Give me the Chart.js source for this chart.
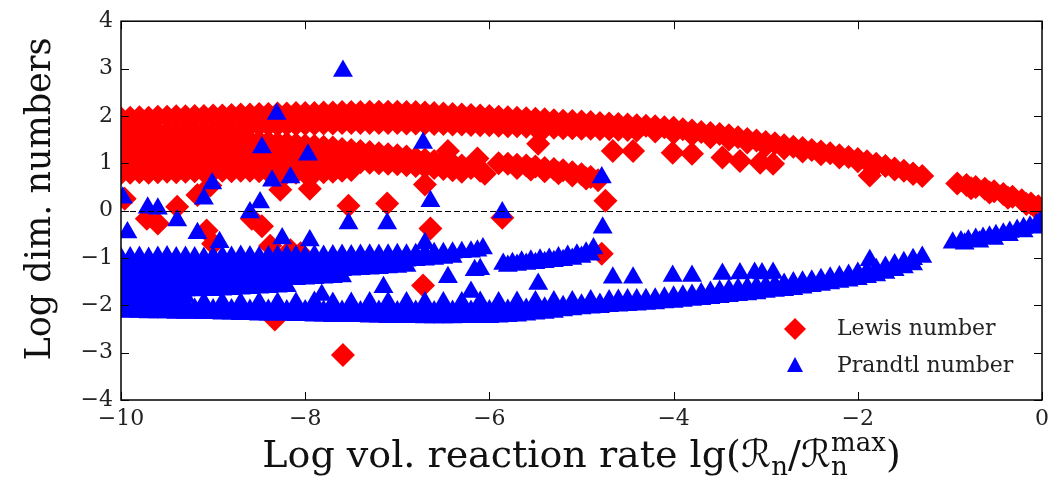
<!DOCTYPE html>
<html>
<head>
<meta charset="utf-8">
<script src="https://cdn.jsdelivr.net/npm/chart.js@4.4.1/dist/chart.umd.min.js"></script>
<style>
  html, body { margin: 0; padding: 0; background: #fff; }
  canvas { display: block; }
</style>
</head>
<body>
<canvas id="myChart" width="1059" height="486"></canvas>
<script>
// axis ranges
const xRange = [-10, 0];
const yRange = [-4, 4];

// Lewis number (red diamonds), [x, y]
const lewisArcTop = [[-10,1.95],[-9.9,1.96],[-9.8,1.97],[-9.7,1.96],[-9.6,1.98],[-9.5,1.98],[-9.4,1.99],[-9.3,1.99],[-9.2,2.0],[-9.1,2.0],[-9.0,2.01],[-8.9,2.01],[-8.8,2.02],[-8.7,2.03],[-8.6,2.03],[-8.5,2.04],[-8.4,2.04],[-8.3,2.05],[-8.2,2.05],[-8.1,2.06],[-8.0,2.06],[-7.9,2.06],[-7.8,2.07],[-7.7,2.07],[-7.6,2.08],[-7.5,2.08],[-7.4,2.08],[-7.3,2.09],[-7.2,2.09],[-7.1,2.09],[-7.0,2.09],[-6.9,2.08],[-6.8,2.08],[-6.7,2.07],[-6.6,2.06],[-6.5,2.05],[-6.4,2.04],[-6.3,2.03],[-6.2,2.02],[-6.1,2.01],[-6.0,2.0],[-5.9,1.98],[-5.8,1.97],[-5.7,1.96],[-5.6,1.95],[-5.5,1.94],[-5.4,1.93],[-5.3,1.91],[-5.2,1.9],[-5.1,1.89],[-5.0,1.88],[-4.9,1.87],[-4.8,1.85],[-4.7,1.84],[-4.6,1.83],[-4.5,1.82],[-4.4,1.8],[-4.3,1.79],[-4.2,1.78],[-4.1,1.76],[-4.0,1.75],[-3.9,1.72],[-3.8,1.69],[-3.7,1.66],[-3.6,1.64],[-3.5,1.62],[-3.4,1.59],[-3.3,1.55],[-3.2,1.51],[-3.1,1.48],[-3.0,1.45],[-2.9,1.42],[-2.8,1.38],[-2.7,1.35],[-2.6,1.32],[-2.5,1.28],[-2.4,1.25],[-2.3,1.21],[-2.2,1.17],[-2.1,1.13],[-2.0,1.09],[-1.9,1.04],[-1.8,0.99],[-1.7,0.94],[-1.6,0.89],[-1.5,0.84],[-1.4,0.78],[-1.3,0.73]];
const lewisArcLow = [[-8.6,1.8],[-8.5,1.8],[-8.4,1.81],[-8.3,1.81],[-8.2,1.82],[-8.1,1.82],[-8.0,1.83],[-7.9,1.83],[-7.8,1.84],[-7.7,1.84],[-7.6,1.85],[-7.5,1.85],[-7.4,1.85],[-7.3,1.85],[-7.2,1.85],[-7.1,1.85],[-7.0,1.85],[-6.9,1.84],[-6.8,1.84],[-6.7,1.84],[-6.6,1.83],[-6.5,1.83],[-6.4,1.82],[-6.3,1.82],[-6.2,1.81],[-6.1,1.8],[-6.0,1.8],[-5.9,1.79],[-5.8,1.78],[-5.7,1.78],[-5.6,1.77],[-5.5,1.76],[-5.4,1.75],[-5.3,1.75],[-5.2,1.74],[-5.1,1.74],[-5.0,1.73],[-4.9,1.73],[-4.8,1.72],[-4.7,1.72],[-4.6,1.71],[-4.5,1.7],[-4.4,1.69],
  [-4.2,1.67],[-4,1.64],[-3.8,1.6],[-3.6,1.55],[-3.4,1.5],[-3.2,1.44],[-3,1.37],[-2.8,1.31],[-2.6,1.25],[-2.4,1.19],[-2.2,1.12],[-2,1.04],[-1.8,0.96],[-1.6,0.87],[-1.4,0.78]];
const lewisLeftBlock = [
  [-10,1.64],[-9.9,1.65],[-9.8,1.65],[-9.7,1.64],[-9.6,1.66],[-9.5,1.66],[-9.4,1.67],[-9.3,1.67],[-9.2,1.68],[-9.1,1.68],[-9.0,1.69],[-8.9,1.7],[-8.8,1.7],[-8.7,1.71],
  [-10,1.35],[-9.9,1.36],[-9.8,1.35],[-9.7,1.36],[-9.6,1.37],[-9.5,1.36],[-9.4,1.37],[-9.3,1.38],[-9.2,1.38],[-9.1,1.39],[-9.0,1.4],[-8.9,1.41],[-8.8,1.42],[-8.7,1.43],
  [-10,1.06],[-9.9,1.07],[-9.8,1.06],[-9.7,1.07],[-9.6,1.08],[-9.5,1.07],[-9.4,1.08],[-9.3,1.09],[-9.2,1.09],[-9.1,1.1],[-9.0,1.1],[-8.9,1.11],[-8.8,1.12],[-8.7,1.13],
  [-10,0.79],[-9.9,0.8],[-9.8,0.81],[-9.7,0.8],[-9.6,0.81],[-9.5,0.82],[-9.4,0.81],[-9.3,0.82],[-9.2,0.83],[-9.1,0.82],[-9.0,0.83],[-8.9,0.84],[-8.8,0.83],[-8.7,0.84]];
const lewisBranchA = [
  [-8.6,1.47],[-8.5,1.46],[-8.4,1.45],[-8.3,1.43],[-8.2,1.42],[-8.1,1.4],[-8.0,1.38],[-7.9,1.37],[-7.8,1.35],[-7.7,1.33],[-7.6,1.3],[-7.5,1.28],[-7.4,1.26],[-7.3,1.24],[-7.2,1.21],[-7.1,1.19],[-7.0,1.17],[-6.9,1.14],[-6.8,1.11],[-6.7,1.08],[-6.6,1.05],[-6.5,1.03],[-6.4,0.99],[-6.3,0.95],[-6.2,0.9],[-6.1,0.84],[-6.05,0.78],
  [-8.6,1.14],[-8.5,1.13],[-8.4,1.12],[-8.3,1.11],[-8.2,1.1],[-8.1,1.09],[-8.0,1.08],[-7.9,1.07],[-7.8,1.06],[-7.7,1.05],[-7.6,1.04],[-7.5,1.03],[-7.4,1.02],[-7.3,1.01],[-7.2,1.0],[-7.1,0.99],[-7.0,0.98],[-6.9,0.96],[-6.8,0.94],[-6.7,0.92],[-6.6,0.9],[-6.5,0.88],[-6.4,0.85],[-6.3,0.82],
  [-8.6,0.84],[-8.5,0.83],[-8.4,0.82],[-8.3,0.81],[-8.2,0.8],[-8.1,0.8],[-8.0,0.79],[-7.9,0.8],[-7.8,0.81],[-7.7,0.82],[-7.6,0.84],[-7.5,0.86]];
const lewisBranchB = [[-5.9,1.0],[-5.8,0.99],[-5.7,0.97],[-5.6,0.95],[-5.5,0.93],[-5.4,0.9],[-5.3,0.88],[-5.2,0.85],[-5.1,0.81],[-5.0,0.77],[-4.9,0.71],[-4.82,0.64],
  [-5.7,0.9],[-5.55,0.87],[-5.4,0.83],[-5.25,0.79],[-5.1,0.74],[-4.95,0.68]];
const lewisTail = [[-0.92,0.57],[-0.82,0.54],[-0.72,0.5],[-0.62,0.46],[-0.52,0.41],[-0.42,0.35],[-0.32,0.29],[-0.22,0.22],[-0.12,0.15],[-0.04,0.09],
  [-0.77,0.47],[-0.57,0.38],[-0.37,0.27],[-0.17,0.14],[-0.05,0.03]];
const lewisScatter = [[-9.96,0.25],[-9.72,-0.17],[-9.6,-0.27],[-9.39,0.08],[-9.17,0.33],[-9.03,0.53],[-9.07,-0.42],[-9.0,-0.7],[-8.58,-0.17],[-8.47,-0.33],[-8.38,-0.74],[-8.27,0.44],[-8.16,-0.84],[-8.05,-0.9],[-7.95,0.46],[-8.33,-2.3],[-7.53,0.1],[-7.11,0.15],[-6.7,0.55],[-6.64,-0.38],[-6.45,1.26],[-6.13,1.1],[-5.86,-0.15],[-5.47,1.41],[-4.74,0.21],[-4.78,-0.91],[-4.66,1.26],[-4.44,1.26],[-6.72,-1.58],[-7.59,-3.05],[-4.01,1.22],[-3.8,1.2],[-3.47,1.12],[-3.28,1.05],[-3.06,1.01],[-2.92,0.99],[-1.87,0.74]];

// Prandtl number (blue triangles), [x, y]
const prandtlUpper = [
  [-10,-1.0],[-9.9,-0.99],[-9.8,-0.98],[-9.7,-1.0],[-9.6,-0.98],[-9.5,-0.97],[-9.4,-0.99],[-9.3,-0.98],[-9.2,-0.99],[-9.1,-1.0],[-9.0,-0.98],[-8.9,-0.97],[-8.8,-0.98],[-8.7,-0.96],[-8.6,-0.97],[-8.5,-0.98],[-8.4,-0.97],[-8.3,-0.96],[-8.2,-0.95],[-8.1,-0.96],[-8.0,-0.97],[-7.9,-0.95],[-7.8,-0.96],[-7.7,-0.95],[-7.6,-0.94],[-7.5,-0.95],[-7.4,-0.94],[-7.3,-0.93],[-7.2,-0.94],[-7.1,-0.93],[-7.0,-0.92],[-6.9,-0.93],[-6.8,-0.92],[-6.7,-0.91],[-6.6,-0.9],[-6.5,-0.9],[-6.4,-0.89],[-6.3,-0.88],[-6.2,-0.87],[-6.13,-0.85],
  [-10,-1.17],[-9.9,-1.16],[-9.8,-1.17],[-9.7,-1.16],[-9.6,-1.16],[-9.5,-1.17],[-9.4,-1.16],[-9.3,-1.15],[-9.2,-1.16],[-9.1,-1.15],[-9.0,-1.15],[-8.9,-1.16],[-8.8,-1.15],[-8.7,-1.14],[-8.6,-1.15],[-8.5,-1.14],[-8.4,-1.14],[-8.3,-1.13],[-8.2,-1.14],[-8.1,-1.13],[-8.0,-1.13],[-7.9,-1.12],[-7.8,-1.12],[-7.7,-1.11],[-7.6,-1.11],[-7.5,-1.1],[-7.4,-1.1],[-7.3,-1.09],[-7.2,-1.08],[-7.1,-1.08],[-7.0,-1.07],[-6.9,-1.06],[-6.8,-1.05],[-6.7,-1.04],[-6.6,-1.02],[-6.5,-1.0],[-6.4,-0.98],
  [-10,-1.35],[-9.9,-1.34],[-9.8,-1.35],[-9.7,-1.34],[-9.6,-1.34],[-9.5,-1.35],[-9.4,-1.34],[-9.3,-1.33],[-9.2,-1.34],[-9.1,-1.33],[-9.0,-1.33],[-8.9,-1.32],[-8.8,-1.32],[-8.7,-1.31],[-8.6,-1.31],[-8.5,-1.31],[-8.4,-1.3],[-8.3,-1.3],[-8.2,-1.29],[-8.1,-1.29],[-8.0,-1.28],[-7.9,-1.28],[-7.8,-1.27],[-7.7,-1.26],[-7.6,-1.26],[-7.5,-1.25],[-7.4,-1.24],[-7.3,-1.23],[-7.2,-1.22],[-7.1,-1.2],[-7.0,-1.19],[-6.9,-1.17],
  [-10,-1.53],[-9.9,-1.52],[-9.8,-1.53],[-9.7,-1.52],[-9.6,-1.52],[-9.5,-1.53],[-9.4,-1.52],[-9.3,-1.51],[-9.2,-1.51],[-9.1,-1.5],[-9.0,-1.5],[-8.9,-1.5],[-8.8,-1.49],[-8.7,-1.49],[-8.6,-1.48],[-8.5,-1.48],[-8.4,-1.47],[-8.3,-1.46],[-8.2,-1.45],[-8.1,-1.45],[-8.0,-1.44],[-7.9,-1.43],[-7.8,-1.42],[-7.7,-1.41],[-7.6,-1.39],
  [-10,-1.71],[-9.9,-1.7],[-9.8,-1.71],[-9.7,-1.7],[-9.6,-1.7],[-9.5,-1.71],[-9.4,-1.7],[-9.3,-1.69],[-9.2,-1.69],[-9.1,-1.68],[-9.0,-1.68],[-8.9,-1.67],[-8.8,-1.66],[-8.7,-1.65],[-8.6,-1.64],[-8.5,-1.63],[-8.4,-1.62],[-8.3,-1.61],[-8.2,-1.6],
  [-10,-1.84],[-9.9,-1.85],[-9.8,-1.84],[-9.7,-1.84],[-9.6,-1.83],[-9.5,-1.84],[-9.4,-1.83],[-9.3,-1.82]];
const prandtlLowTop = [[-10,-1.94],[-9.9,-1.95],[-9.8,-1.94],[-9.7,-1.93],[-9.6,-1.95],[-9.5,-1.95],[-9.4,-1.94],
  [-9.3,-1.96],[-9.1,-1.94],[-8.9,-1.94],[-8.7,-1.95],[-8.5,-1.94],[-8.3,-1.95],[-8.1,-1.95],[-7.9,-1.93],[-7.7,-1.95],[-7.5,-1.95],[-7.3,-1.94],[-7.1,-1.94],[-6.9,-1.94],[-6.7,-1.94],[-6.5,-1.94],[-6.3,-1.94],[-6.1,-1.93],[-5.9,-1.94],[-5.7,-1.93],[-5.5,-1.92],[-5.3,-1.92],[-5.1,-1.92],[-4.9,-1.9],[-4.7,-1.9],
  [-4.6,-1.89],[-4.5,-1.88],[-4.4,-1.88],[-4.3,-1.87],[-4.2,-1.86],[-4.1,-1.84],[-4.0,-1.82],[-3.9,-1.8],[-3.8,-1.78],[-3.7,-1.75],[-3.6,-1.72],[-3.5,-1.7],[-3.4,-1.67],[-3.3,-1.65],[-3.2,-1.63],[-3.1,-1.61],[-3.0,-1.59],[-2.9,-1.57],[-2.8,-1.55],[-2.7,-1.52],[-2.6,-1.5],[-2.5,-1.48],[-2.4,-1.45],[-2.3,-1.42],[-2.2,-1.39],[-2.1,-1.36],[-2.0,-1.32],[-1.9,-1.28],[-1.8,-1.24],[-1.7,-1.19],[-1.6,-1.14],[-1.5,-1.09],[-1.4,-1.03],[-1.3,-0.98]];
const prandtlLowMid = [[-10,-2.06],[-9.9,-2.07],[-9.8,-2.07],[-9.7,-2.08],[-9.6,-2.07],[-9.5,-2.08],[-9.4,-2.08],[-9.3,-2.09],[-9.2,-2.08],[-9.1,-2.09],[-9.0,-2.09],[-8.9,-2.1],[-8.8,-2.09],[-8.7,-2.1],[-8.6,-2.1],[-8.5,-2.11],[-8.4,-2.1],[-8.3,-2.11],[-8.2,-2.11],[-8.1,-2.12],[-8.0,-2.11],[-7.9,-2.12],[-7.8,-2.12],[-7.7,-2.12],[-7.6,-2.12],[-7.5,-2.12],[-7.4,-2.13],[-7.3,-2.13],[-7.2,-2.12],[-7.1,-2.13],[-7.0,-2.13],[-6.9,-2.13],[-6.8,-2.12],[-6.7,-2.13],[-6.6,-2.13],[-6.5,-2.13],[-6.4,-2.12],[-6.3,-2.12],[-6.2,-2.12],[-6.1,-2.12],[-6.0,-2.11],[-5.9,-2.1],[-5.8,-2.1],[-5.7,-2.09],[-5.6,-2.08],[-5.5,-2.07],[-5.4,-2.05],[-5.3,-2.04],[-5.2,-2.02],[-5.1,-2.0],[-5.0,-1.99],[-4.9,-1.98],[-4.8,-1.97],[-4.7,-1.96],[-4.6,-1.95]];
const prandtlLowBottom = [[-10,-2.13],[-9.9,-2.14],[-9.8,-2.14],[-9.7,-2.15],[-9.6,-2.15],[-9.5,-2.15],[-9.4,-2.16],[-9.3,-2.16],[-9.2,-2.16],[-9.1,-2.17],[-9.0,-2.17],[-8.9,-2.18],[-8.8,-2.18],[-8.7,-2.19],[-8.6,-2.19],[-8.5,-2.2],[-8.4,-2.2],[-8.3,-2.2],[-8.2,-2.2],[-8.1,-2.21],[-8.0,-2.21],[-7.9,-2.22],[-7.8,-2.22],[-7.7,-2.23],[-7.6,-2.23],[-7.5,-2.23],[-7.4,-2.23],[-7.3,-2.24],[-7.2,-2.24],[-7.1,-2.25],[-7.0,-2.25],[-6.9,-2.25],[-6.8,-2.25],[-6.7,-2.26],[-6.6,-2.26],[-6.5,-2.26],[-6.4,-2.26],[-6.3,-2.25],[-6.2,-2.25],[-6.1,-2.25],[-6.0,-2.25],[-5.9,-2.24],[-5.8,-2.23],[-5.7,-2.22],[-5.6,-2.2],[-5.5,-2.18],[-5.4,-2.16],[-5.3,-2.14],[-5.2,-2.11],[-5.1,-2.09],[-5.0,-2.07],[-4.9,-2.05],[-4.8,-2.04],[-4.7,-2.02],[-4.6,-2.01],[-4.5,-2.0],[-4.4,-1.99],[-4.3,-1.97],[-4.2,-1.96],[-4.1,-1.94],[-4.0,-1.93],[-3.9,-1.91],[-3.8,-1.89],[-3.7,-1.87],[-3.6,-1.85],[-3.5,-1.83],[-3.4,-1.81],[-3.3,-1.79],[-3.2,-1.77],[-3.1,-1.75],[-3.0,-1.72],[-2.9,-1.7],[-2.8,-1.68],[-2.7,-1.66],[-2.6,-1.63],[-2.5,-1.6],[-2.4,-1.57],[-2.3,-1.54],[-2.2,-1.51],[-2.1,-1.48],[-2.0,-1.45],[-1.9,-1.41],[-1.8,-1.37],[-1.7,-1.32],[-1.6,-1.26],[-1.5,-1.2],[-1.4,-1.14]];
const prandtlBranchC = [[-5.85,-1.13],[-5.75,-1.11],[-5.65,-1.08],[-5.55,-1.06],[-5.45,-1.04],[-5.35,-1.02],[-5.25,-0.99],[-5.15,-0.96],[-5.05,-0.93],[-4.95,-0.89],[-4.87,-0.8],
  [-5.8,-1.17],[-5.7,-1.15],[-5.6,-1.13],[-5.5,-1.11],[-5.4,-1.09],[-5.3,-1.07],[-5.2,-1.05],[-5.1,-1.02],[-5.0,-0.98],[-4.9,-0.93]];
const prandtlTail = [[-0.97,-0.68],[-0.88,-0.65],[-0.8,-0.63],[-0.72,-0.6],[-0.64,-0.58],[-0.57,-0.55],[-0.5,-0.52],[-0.42,-0.49],[-0.35,-0.45],[-0.27,-0.41],[-0.2,-0.37],[-0.13,-0.34],[-0.06,-0.29],[-0.02,-0.24],
  [-0.84,-0.7],[-0.68,-0.66],[-0.52,-0.6],[-0.36,-0.52],[-0.2,-0.44],[-0.06,-0.36]];
const prandtlScatter = [[-7.59,2.95],[-8.31,2.04],[-8.47,1.33],[-7.97,1.18],[-6.72,1.43],[-8.36,0.63],[-8.16,0.7],[-9.01,0.57],[-9.1,0.25],[-9.98,0.27],[-8.49,0.17],[-8.6,-0.04],[-9.71,0.06],[-9.6,0.04],[-9.39,-0.21],[-9.93,-0.46],[-9.17,-0.48],[-8.93,-0.67],[-8.25,-0.59],[-7.95,-0.63],[-7.53,-0.27],[-7.11,-0.27],[-6.64,0.2],[-6.7,-0.69],[-6.07,-0.8],[-5.86,-0.04],[-4.78,0.7],[-4.77,-0.36],[-6.45,-1.41],[-6.16,-1.26],[-6.1,-1.24],[-5.47,-1.55],[-4.66,-1.42],[-4.44,-1.42],[-4.01,-1.38],[-3.8,-1.38],[-3.47,-1.34],[-3.28,-1.33],[-3.12,-1.32],[-3.04,-1.33],[-2.92,-1.32],[-1.87,-1.05],[-7.15,-1.62],[-7.82,-1.78],[-6.2,-1.72]];

const seriesNames = ['Lewis number', 'Prandtl number'];
const yTitle = 'Log dim. numbers';

const toPts = arr => arr.map(p => ({ x: p[0], y: p[1] }));
const lewis = [].concat(lewisArcTop, lewisArcLow, lewisLeftBlock, lewisBranchA, lewisBranchB, lewisTail, lewisScatter);
const prandtl = [].concat(prandtlUpper, prandtlLowTop, prandtlLowMid, prandtlLowBottom, prandtlBranchC, prandtlTail, prandtlScatter);

const serif = "'DejaVu Serif', 'DejaVu Sans', serif";
const minus = v => String(v).replace('-', '\u2212');

// x title with sub/superscripts
function drawXTitle(ctx, cx, base) {
  const big = '38px ' + serif, small = '26px ' + serif;
  const parts = [
    [{ t: 'Log vol. reaction rate lg(', f: big, dy: 0 }],
    [{ t: '\u211B', f: big, dy: 0 }],
    [{ t: 'n', f: small, dy: 8 }],
    [{ t: '/', f: big, dy: 0 }],
    [{ t: '\u211B', f: big, dy: 0 }],
    [{ t: 'max', f: small, dy: -16 }, { t: 'n', f: small, dy: 8 }],
    [{ t: ')', f: big, dy: 0 }]
  ];
  let total = 0;
  const widths = parts.map(p => {
    let w = 0;
    p.forEach(s => { ctx.font = s.f; w = Math.max(w, ctx.measureText(s.t).width); });
    total += w;
    return w;
  });
  let x = cx - total / 2;
  ctx.textAlign = 'left';
  ctx.textBaseline = 'alphabetic';
  parts.forEach((p, i) => {
    p.forEach(s => { ctx.font = s.f; ctx.fillText(s.t, x, base + s.dy); });
    x += widths[i];
  });
}

const decorations = {
  id: 'decorations',
  afterDatasetsDraw(chart) {
    const { ctx, chartArea: a, scales: { x, y } } = chart;
    ctx.save();
    ctx.strokeStyle = '#000';

    // dashed zero line
    const y0 = Math.round(y.getPixelForValue(0)) + 0.5;
    ctx.lineWidth = 1;
    ctx.setLineDash([6, 3]);
    ctx.beginPath();
    ctx.moveTo(a.left, y0);
    ctx.lineTo(a.right, y0);
    ctx.stroke();
    ctx.setLineDash([]);

    // inward ticks on all sides
    const tl = 8;
    ctx.beginPath();
    x.ticks.forEach(t => {
      const px = Math.round(x.getPixelForValue(t.value)) + 0.5;
      ctx.moveTo(px, a.bottom); ctx.lineTo(px, a.bottom - tl);
      ctx.moveTo(px, a.top); ctx.lineTo(px, a.top + tl);
    });
    y.ticks.forEach(t => {
      const py = Math.round(y.getPixelForValue(t.value)) + 0.5;
      ctx.moveTo(a.left, py); ctx.lineTo(a.left + tl, py);
      ctx.moveTo(a.right, py); ctx.lineTo(a.right - tl, py);
    });
    ctx.stroke();

    // frame
    ctx.lineWidth = 1.5;
    ctx.strokeRect(a.left, a.top, a.right - a.left, a.bottom - a.top);

    // legend (inside, lower right)
    const lx = 795, ly1 = 329, ly2 = 366;
    ctx.fillStyle = '#ff0000';
    ctx.beginPath();
    ctx.moveTo(lx - 11, ly1); ctx.lineTo(lx, ly1 - 11); ctx.lineTo(lx + 11, ly1); ctx.lineTo(lx, ly1 + 11);
    ctx.closePath(); ctx.fill();
    ctx.fillStyle = '#0000ff';
    ctx.beginPath();
    ctx.moveTo(lx, ly2 - 9); ctx.lineTo(lx + 8, ly2 + 6); ctx.lineTo(lx - 8, ly2 + 6);
    ctx.closePath(); ctx.fill();
    ctx.fillStyle = '#222';
    ctx.font = '22px ' + serif;
    ctx.textAlign = 'left';
    ctx.textBaseline = 'middle';
    ctx.fillText(seriesNames[0], 837, ly1);
    ctx.fillText(seriesNames[1], 837, ly2);

    // axis titles
    ctx.fillStyle = '#111';
    drawXTitle(ctx, (a.left + a.right) / 2, 467);
    ctx.save();
    ctx.translate(50, 199);
    ctx.rotate(-Math.PI / 2);
    ctx.font = '35px ' + serif;
    ctx.textAlign = 'center';
    ctx.textBaseline = 'alphabetic';
    ctx.fillText(yTitle, 0, 0);
    ctx.restore();

    ctx.restore();
  }
};

const ctx = document.getElementById('myChart').getContext('2d');
new Chart(ctx, {
  type: 'scatter',
  data: {
    datasets: [{
      label: seriesNames[0],
      data: toPts(lewis),
      pointStyle: 'rectRot',
      pointRadius: 12,
      pointHoverRadius: 12,
      backgroundColor: '#ff0000',
      borderWidth: 0,
      order: 2
    }, {
      label: seriesNames[1],
      data: toPts(prandtl),
      pointStyle: 'triangle',
      pointRadius: 11.5,
      pointHoverRadius: 11.5,
      backgroundColor: '#0000ff',
      borderWidth: 0,
      order: 1
    }]
  },
  options: {
    responsive: false,
    animation: false,
    devicePixelRatio: 1,
    layout: { padding: { left: 0, right: 17, top: 20, bottom: 0 } },
    plugins: {
      legend: { display: false },
      tooltip: { enabled: false }
    },
    scales: {
      x: {
        type: 'linear',
        min: xRange[0],
        max: xRange[1],
        grid: { display: false, drawTicks: false },
        border: { display: false },
        ticks: {
          stepSize: 2,
          padding: 6,
          color: '#222',
          font: { family: serif, size: 22 },
          callback: v => minus(v)
        },
        afterFit: s => { s.height = 86; }
      },
      y: {
        type: 'linear',
        min: yRange[0],
        max: yRange[1],
        grid: { display: false, drawTicks: false },
        border: { display: false },
        ticks: {
          stepSize: 1,
          padding: 8,
          color: '#222',
          font: { family: serif, size: 22 },
          callback: v => minus(v)
        },
        afterFit: s => { s.width = 121; }
      }
    }
  },
  plugins: [decorations]
});
</script>
</body>
</html>
